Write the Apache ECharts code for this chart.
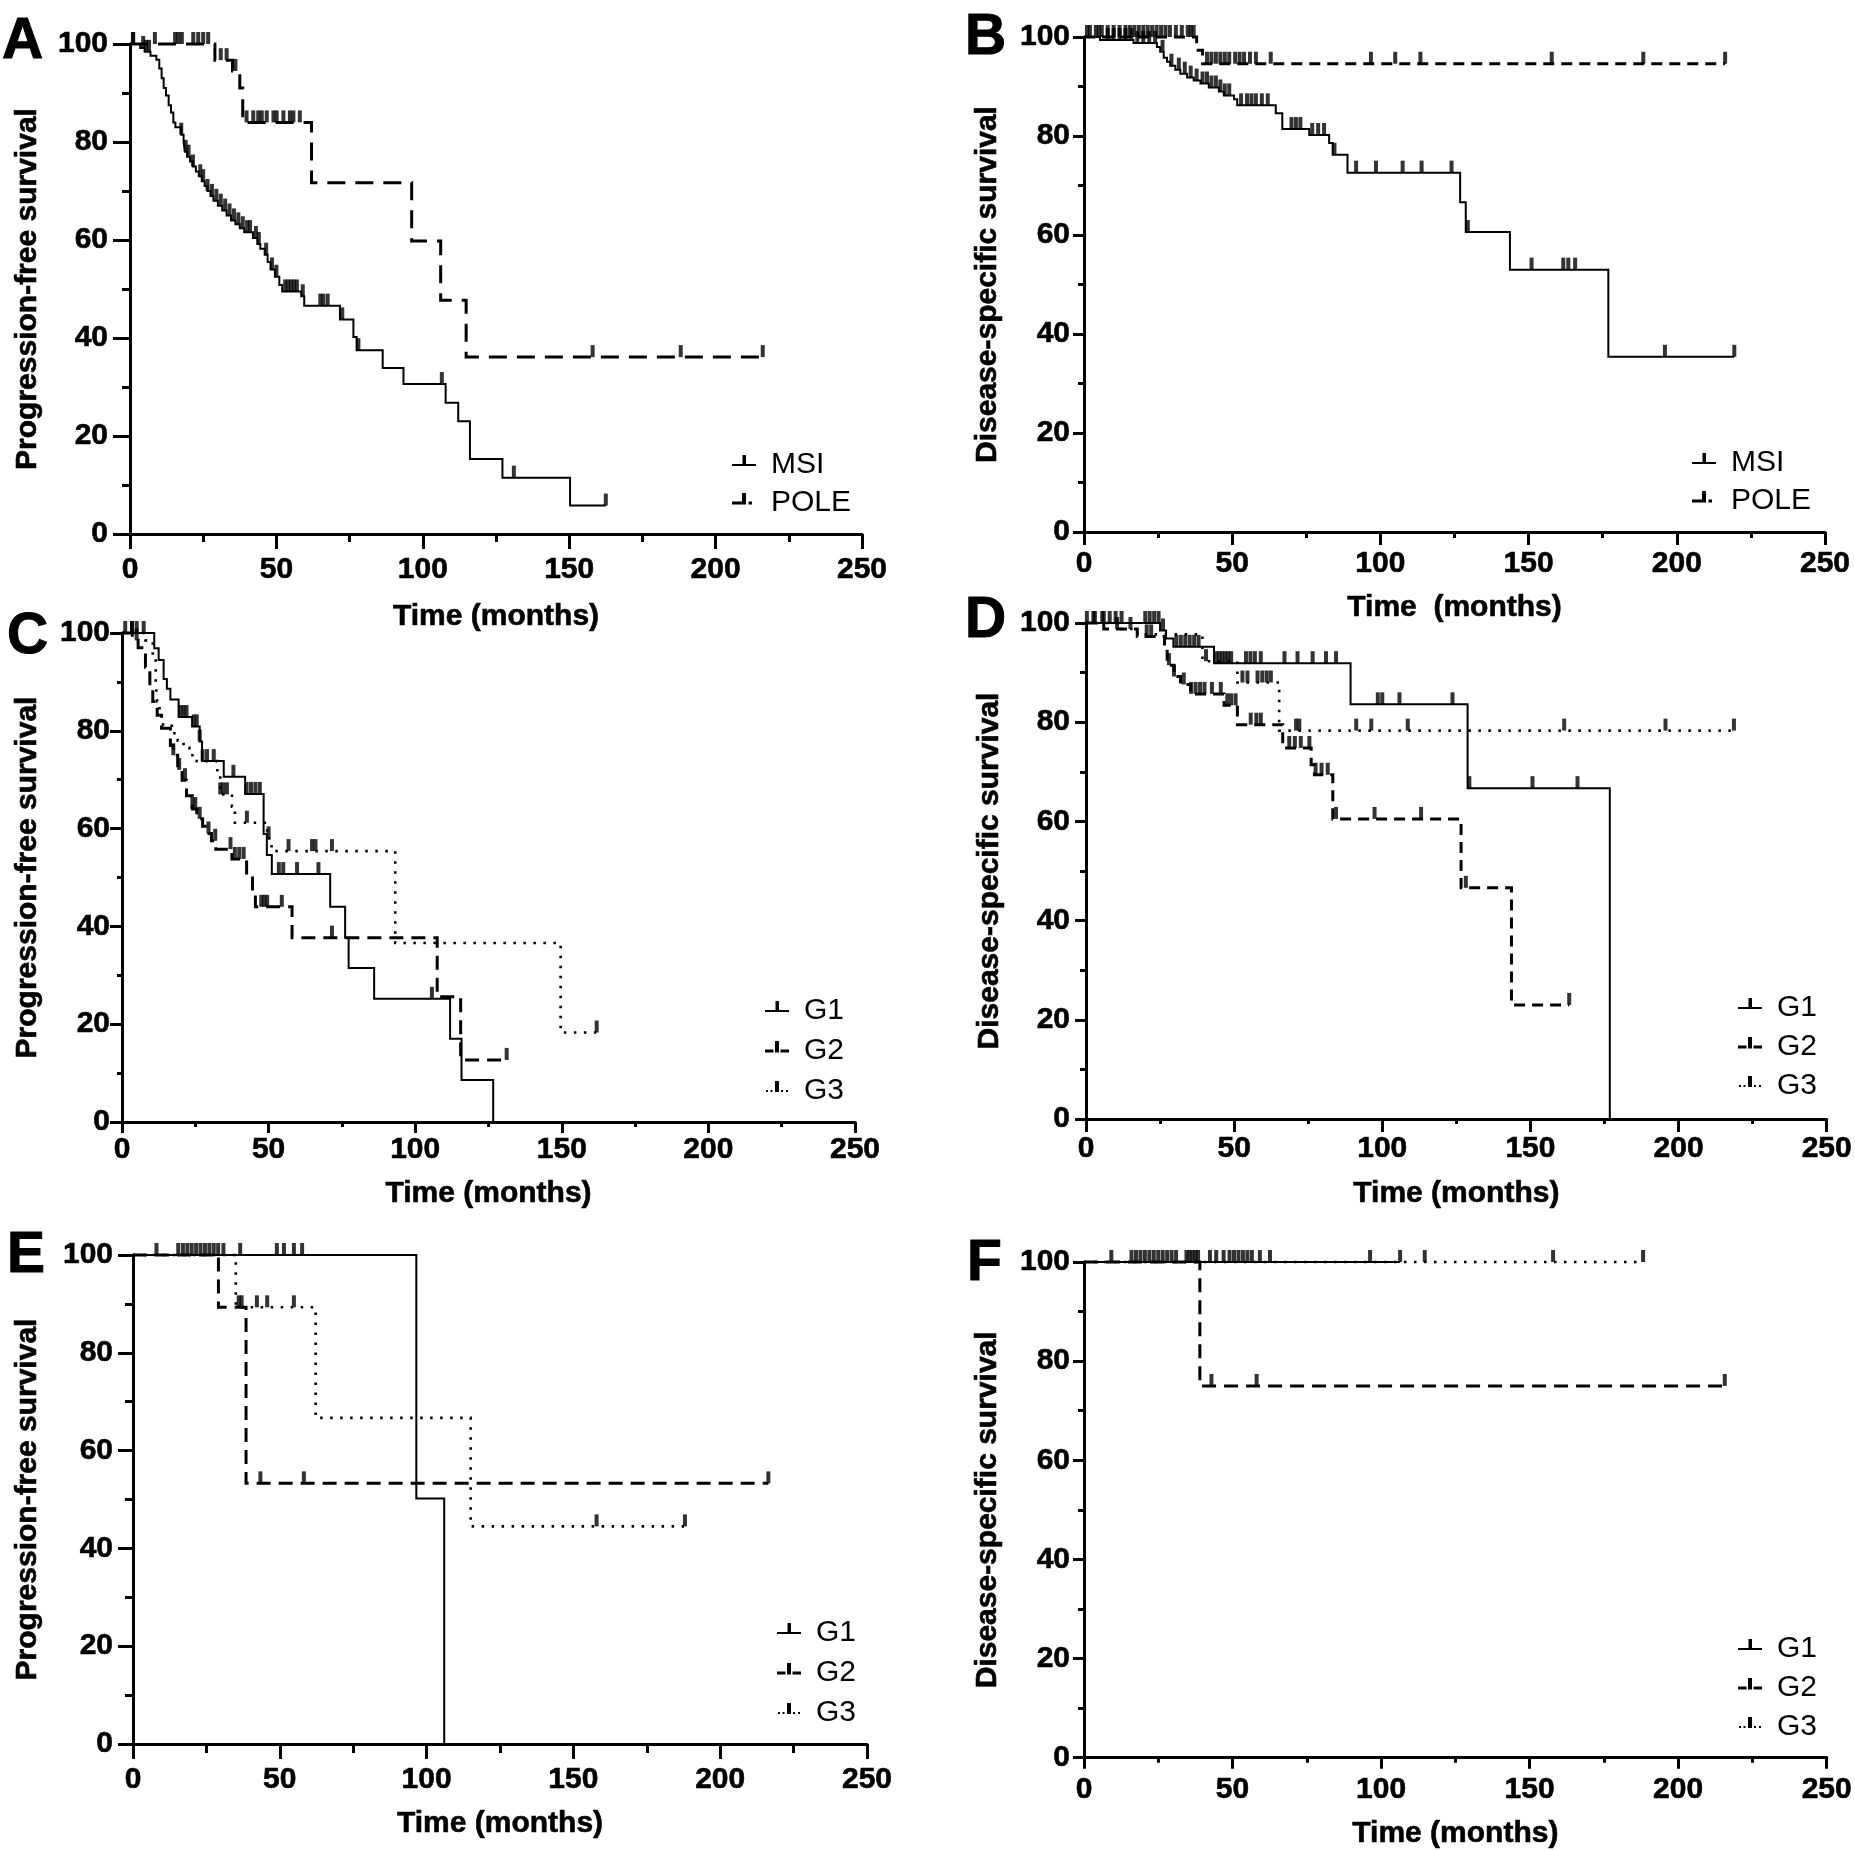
<!DOCTYPE html>
<html>
<head>
<meta charset="utf-8">
<script src="https://cdn.jsdelivr.net/npm/echarts@6.0.0/dist/echarts.min.js"></script>
<style>
html,body{margin:0;padding:0;background:#fff;}
#chart{width:1855px;height:1850px;}
</style>
</head>
<body>
<div id="chart"></div>
<script>
// ================= DATA =================
const xTickValues = [0, 50, 100, 150, 200, 250];
const yTickValues = [0, 20, 40, 60, 80, 100];

const panelLetters = ['A', 'B', 'C', 'D', 'E', 'F'];
const yTitles = ['Progression-free survival', 'Disease-specific survival', 'Progression-free survival',
                 'Disease-specific survival', 'Progression-free survival', 'Disease-specific survival'];
const xTitles = ['Time (months)', 'Time  (months)', 'Time (months)', 'Time (months)', 'Time (months)', 'Time (months)'];
const groupsMolecular = ['MSI', 'POLE'];
const groupsGrade = ['G1', 'G2', 'G3'];

// Steps are [time, survival after the drop]; censor = times of censored cases
// Panel A
const A_MSI_steps = [[3.5,99.2],[5,98.4],[7,97.6],[9,96.8],[10,95],[10.8,93],[11.5,91],[12.3,89.5],[13.2,87.5],[14,86],[14.8,84],[15.5,83],[17.5,81.5],[18.3,80],[18.8,78],[19.5,77],[20.5,76],[21.5,75],[22.5,74],[23.5,73],[24.5,72],[25.5,71],[26.5,70],[27.5,69],[28.5,68],[30,67],[31.5,66],[33,65],[34.5,64],[36,63.2],[37.5,62.4],[39,61.6],[42,60.4],[43.5,59.2],[44.5,58.2],[46,57],[47,55.5],[48,54],[49.5,52.5],[51,50.8],[52,49.5],[58.5,48.5],[59.5,46.6],[71.7,43.8],[76.3,40.2],[77.4,37.5],[86.3,33.9],[93.4,30.6],[107.8,26.8],[112.1,23.0],[116.1,15.3],[127.2,11.5],[150.3,5.8]];
const A_MSI_censor = [1,4.5,5.5,6.5,17.5,19,20,21.5,24,25,26.5,28,29.5,31,32.5,34,35.5,37,38.5,40,41,43,44,46.5,48.5,50,53,54,55,56,57,59,65,66,67.5,72.5,78,106.5,131.1,162.5];
const A_POLE_steps = [[29,96.7],[35,94.5],[37.5,91],[38.5,84],[62,71.7],[96.2,59.8],[106.1,47.7],[114.8,36.1]];
const A_POLE_censor = [1.1,8.5,15.4,16.5,17.7,21.6,23.3,25,26.7,31,33,36,39.8,42.1,43.8,45,46.7,49,50.1,52.4,54.6,55.8,58,158,188.1,216.1];
// Panel B
const B_MSI_steps = [[5.4,99.4],[16.7,98.8],[24.6,98],[25.7,97],[26.9,95.8],[28,95],[29.1,94.2],[30.8,93.4],[32.5,92.6],[34.8,91.8],[37,91.2],[39.3,90.6],[42.1,89.8],[45.5,89],[47.2,88.2],[50.6,87.4],[51.7,86.2],[64.7,84.6],[66.9,81.4],[76,80.2],[82.7,78.6],[83.9,76.2],[88.9,72.6],[126.9,66.6],[128.8,60.6],[143.7,53.0],[176.9,35.4]];
const B_MSI_censor = [2,5,8,10,12,14,16,18,20,22,24,26.5,29.5,32,34,36,38,40,41.5,43,44.5,46,47.5,49,53,55,56.5,58,60,62,70,71.5,73,77,79,81,84.5,91.8,98.5,107.5,113.9,124,129.5,151,161.7,163.4,165.7,196,219.4];
const B_POLE_steps = [[38,97.3],[40,94.6]];
const B_POLE_censor = [1,4,6,8,10,12,14,15.5,17,18.5,20,21.5,23,24.5,26,27.5,29,31,33,35,36,37,41.5,43,44.5,46,47.5,49,51,52.5,54,56,58,63,96.8,105,113.5,157.8,188.7,216.3];
// Panel C
const C_G1_steps = [[11,96.9],[12.5,94.5],[14.2,90.6],[15.3,88.6],[16.5,86.4],[19.3,82.8],[23.9,80.9],[26.5,77.8],[27.3,73.8],[34.7,70.6],[42,67.1],[48.3,58.9],[49.4,54.6],[51.1,50.7],[71,44],[76.1,37.7],[77.3,31.5],[86,25.2],[111.9,17],[115.8,8.6],[126.6,0]];
const C_G1_censor = [1.1,7.4,20,21,22,24.5,25.5,26.5,31.3,38,42.5,44,45.5,47,53.5,55,59.7,67,105.7];
const C_G2_steps = [[3.5,98.5],[5.5,97],[8,93],[9.5,89],[10.5,86],[12,83.2],[13.5,80.5],[16.5,77],[17.5,75],[19,72],[20.5,69.9],[22,66.7],[24,64],[25.5,62],[27.5,60.5],[29,59],[30.5,57.5],[32,55.8],[37.5,53.8],[42.5,50.3],[44.5,47],[45.5,44],[58,37.7],[107.5,25.6],[115.5,12.7]];
const C_G2_censor = [3.4,5,17.5,19.5,21.5,24,25,26.5,29.5,31.8,37,38.5,40,41.5,47.5,48.5,49.5,54.5,71.6,131.2];
const C_G3_steps = [[8,98.5],[10.5,95],[11.5,90],[12,86],[12.8,83],[14,81],[17,79.5],[19,78],[21,76.5],[23,75],[25.5,73.8],[32.5,71],[33.5,67],[37.5,64.5],[38.5,61.2],[49.5,58],[51,55.4],[93.2,36.6],[149.6,18.3]];
const C_G3_censor = [3.4,5,27.5,29,33.5,34.5,35.8,42.6,50,56.8,64.8,66,71.6,161.9];
// Panel D
const D_G1_steps = [[25,98.5],[27,96.9],[29.5,95.2],[43.2,91.9],[89.3,83.6],[128.8,66.7],[176.8,0]];
const D_G1_censor = [0.3,2.5,6,8,10,12,20,21.5,23,24.5,26,30.5,32,33.5,35,36.5,38,44,45,46,47,48,49,54,55.5,57,59,67,71.4,76.5,81,84.4,98.5,100,105.8,123.7,129.4,150.7,165.9];
const D_G2_steps = [[6,98.8],[17.3,97.3],[26.5,95],[27.4,91.5],[29.7,89.2],[31.9,87.6],[35.3,85.7],[46.6,83.4],[51.1,79.5],[66.4,74.8],[76,71.4],[77.1,69.4],[83.3,60.5],[126.6,46.6],[143.6,23]];
const D_G2_censor = [5.5,10.5,20.5,22,28,29.7,33,35.5,37,38.5,40,42.5,45.5,47.7,49,50.5,55.6,57.5,59,68.6,70.5,72.5,75.4,77.5,79.5,81.6,84.4,97.4,113.1,128.2,163.1];
const D_G3_steps = [[10.5,98.8],[17.3,97.7],[39.3,92.3],[51.1,88],[65.2,78.3]];
const D_G3_censor = [3,15,40.5,52.8,54.5,57.9,59.5,61,62.4,70.9,72,91.2,96.3,108.6,161.4,195.6,218.7];
// Panel E
const E_G1_steps = [[96.5,50.2],[106,0]];
const E_G1_censor = [8,15.4,17,18.5,20,21.5,23,24.5,26,27.5,29,30.8,36.5,49,51.4,54.8,57.6];
const E_G2_steps = [[29.1,89.3],[38.5,53.3]];
const E_G2_censor = [36,43.4,58.2,216.4];
const E_G3_steps = [[35,89.3],[62.2,66.7],[115,44.5]];
const E_G3_censor = [37,42.2,45.7,54.8,157.9,188];
// Panel F
const F_G1_steps = [];
const F_G1_censor = [9.2,16,17.5,19,20.5,22,23.5,25,26.5,28,29.5,31,34.5,35.5,36.5,37.5,38.4,42.4,44.5,47,49,50.5,52,53.5,55,56.5,59.2,62.6,96.3,106.4];
const F_G2_steps = [[39,75]];
const F_G2_censor = [42.9,58.1,215.7];
const F_G3_steps = [];
const F_G3_censor = [114.7,157.9,188.2];

// ================= LAYOUT / STYLE =================
const FONT = "'Liberation Sans', Arial, Helvetica, sans-serif";
const layout = [
  {grid:{left:130,top:44,width:732,height:490},  yTick:[17,8], xTick:[15,8], yLab:22, xLab:21, yGap:87, xGap:68, letter:[2,14],   legend:[732,450],  legGap:8},
  {grid:{left:1084,top:37,width:741,height:495}, yTick:[11,6], xTick:[13,6], yLab:14, xLab:17, yGap:81, xGap:61, letter:[965,10], legend:[1692,448], legGap:8},
  {grid:{left:122,top:633,width:733,height:489}, yTick:[12,5], xTick:[11,5], yLab:12, xLab:13, yGap:79, xGap:57, letter:[7,609],  legend:[765,996],  legGap:10},
  {grid:{left:1086,top:623,width:742,height:496},yTick:[11,6], xTick:[13,5], yLab:16, xLab:15, yGap:81, xGap:60, letter:[965,593],legend:[1738,993], legGap:9},
  {grid:{left:133,top:1255,width:734,height:489},yTick:[15,8], xTick:[15,9], yLab:20, xLab:21, yGap:90, xGap:65, letter:[7,1228], legend:[777,1618], legGap:10},
  {grid:{left:1084,top:1262,width:743,height:497},yTick:[11,6],xTick:[11,5], yLab:14, xLab:17, yGap:81, xGap:61, letter:[967,1236],legend:[1738,1634],legGap:9}
];
const lineStyles = {
  solid: {type:'solid', width:2},
  dashA: {type:[18,10], width:3},
  dashB: {type:[11,7], width:3},
  dash:  {type:[14,8], width:3},
  dashS: {type:[11,7], width:3},
  dot:   {type:[2.5,7.5], width:2.6}
};
const icons = {
  solid: 'path://M0,9H24V11H0Z M10.5,0H14V11H10.5Z M0,20L0.01,20L0,20Z M24,20L24.01,20L24,20Z',
  pole:  'path://M0,8.5H10V11.5H0Z M10,0H14V11.5H10Z M16.5,8.5H20V11.5H16.5Z M0,20L0.01,20L0,20Z M24,20L24.01,20L24,20Z',
  dash:  'path://M0,8.5H8.5V11.5H0Z M10,0H14V11.5H10Z M15.5,8.5H24V11.5H15.5Z M0,20L0.01,20L0,20Z',
  dot:   'path://M1,9H3V11H1Z M5.5,9H7.5V11H5.5Z M10,0H14V11H10Z M16,9H18V11H16Z M21,9H23V11H21Z M0,20L0.01,20L0,20Z M24,20L24.01,20L24,20Z'
};

const panels = [
  {curves:[{name:groupsMolecular[0], steps:A_MSI_steps, censor:A_MSI_censor, ls:'solid', icon:'solid'},
           {name:groupsMolecular[1], steps:A_POLE_steps, censor:A_POLE_censor, ls:'dashA', icon:'pole'}]},
  {curves:[{name:groupsMolecular[0], steps:B_MSI_steps, censor:B_MSI_censor, ls:'solid', icon:'solid'},
           {name:groupsMolecular[1], steps:B_POLE_steps, censor:B_POLE_censor, ls:'dashB', icon:'pole'}]},
  {curves:[{name:groupsGrade[0], steps:C_G1_steps, censor:C_G1_censor, ls:'solid', icon:'solid'},
           {name:groupsGrade[1], steps:C_G2_steps, censor:C_G2_censor, ls:'dash', icon:'dash'},
           {name:groupsGrade[2], steps:C_G3_steps, censor:C_G3_censor, ls:'dot', icon:'dot'}]},
  {curves:[{name:groupsGrade[0], steps:D_G1_steps, censor:D_G1_censor, ls:'solid', icon:'solid'},
           {name:groupsGrade[1], steps:D_G2_steps, censor:D_G2_censor, ls:'dashS', icon:'dash'},
           {name:groupsGrade[2], steps:D_G3_steps, censor:D_G3_censor, ls:'dot', icon:'dot'}]},
  {curves:[{name:groupsGrade[0], steps:E_G1_steps, censor:E_G1_censor, ls:'solid', icon:'solid'},
           {name:groupsGrade[1], steps:E_G2_steps, censor:E_G2_censor, ls:'dash', icon:'dash'},
           {name:groupsGrade[2], steps:E_G3_steps, censor:E_G3_censor, ls:'dot', icon:'dot'}]},
  {curves:[{name:groupsGrade[0], steps:F_G1_steps, censor:F_G1_censor, ls:'solid', icon:'solid'},
           {name:groupsGrade[1], steps:F_G2_steps, censor:F_G2_censor, ls:'dash', icon:'dash'},
           {name:groupsGrade[2], steps:F_G3_steps, censor:F_G3_censor, ls:'dot', icon:'dot'}]}
];

// ================= BUILD =================
function survAt(steps, t) {
  let s = yTickValues[yTickValues.length - 1];
  for (const st of steps) { if (st[0] <= t) s = st[1]; }
  return s;
}
function kmPoints(steps, censor) {
  const pts = [[xTickValues[0], yTickValues[yTickValues.length - 1]]];
  steps.forEach(st => pts.push([st[0], st[1]]));
  const lastStepT = steps.length ? steps[steps.length - 1][0] : 0;
  const lastS = steps.length ? steps[steps.length - 1][1] : yTickValues[yTickValues.length - 1];
  const maxC = censor.length ? Math.max.apply(null, censor) : 0;
  if (maxC > lastStepT) pts.push([maxC, lastS]);
  return pts;
}

const xMin = xTickValues[0], xMax = xTickValues[xTickValues.length - 1], xInt = xTickValues[1] - xTickValues[0];
const yMin = yTickValues[0], yMax = yTickValues[yTickValues.length - 1], yInt = yTickValues[1] - yTickValues[0];

const grids = [], xAxes = [], yAxes = [], series = [], legends = [], titles = [];
const labelFont = {color:'#000', fontSize:30, fontWeight:'bold', fontFamily:FONT, textBorderColor:'#000', textBorderWidth:0.6};

panels.forEach((p, i) => {
  const L = layout[i];
  grids.push(Object.assign({containLabel:false}, L.grid));
  xAxes.push({
    gridIndex:i, type:'value', min:xMin, max:xMax, interval:xInt,
    axisLine:{show:true, onZero:false, lineStyle:{color:'#000', width:3}},
    axisTick:{show:true, length:L.xTick[0], lineStyle:{color:'#000', width:3}},
    minorTick:{show:true, splitNumber:2, length:L.xTick[1], lineStyle:{color:'#000', width:3}},
    splitLine:{show:false}, minorSplitLine:{show:false},
    axisLabel:Object.assign({margin:L.xLab}, labelFont),
    name:xTitles[i], nameLocation:'middle', nameGap:L.xGap,
    nameTextStyle:labelFont
  });
  yAxes.push({
    gridIndex:i, type:'value', min:yMin, max:yMax, interval:yInt,
    axisLine:{show:true, onZero:false, lineStyle:{color:'#000', width:3}},
    axisTick:{show:true, length:L.yTick[0], lineStyle:{color:'#000', width:3}},
    minorTick:{show:true, splitNumber:2, length:L.yTick[1], lineStyle:{color:'#000', width:3}},
    splitLine:{show:false}, minorSplitLine:{show:false},
    axisLabel:Object.assign({margin:L.yLab}, labelFont),
    name:yTitles[i], nameLocation:'middle', nameGap:L.yGap, nameRotate:90,
    nameTextStyle:labelFont
  });
  p.curves.forEach(c => {
    const ls = lineStyles[c.ls];
    series.push({
      name:c.name, type:'line', xAxisIndex:i, yAxisIndex:i, step:'end',
      data:kmPoints(c.steps, c.censor), symbol:'none', showSymbol:false, clip:false,
      lineStyle:{color:'#000', width:ls.width, type:ls.type, cap:'butt', join:'miter'},
      itemStyle:{color:'#000'}, silent:true, z:3
    });
    series.push({
      name:c.name + ' censored', type:'scatter', xAxisIndex:i, yAxisIndex:i,
      data:c.censor.map(t => [t, survAt(c.steps, t)]),
      symbol:'rect', symbolSize:[4, 12], symbolOffset:[0, '-50%'], clip:false,
      itemStyle:{color:'#000'}, silent:true, z:4
    });
  });
  legends.push({
    left:L.legend[0], top:L.legend[1], orient:'vertical', padding:0,
    itemWidth:24, itemHeight:20, itemGap:L.legGap, selectedMode:false,
    data:p.curves.map(c => ({name:c.name, icon:icons[c.icon]})),
    itemStyle:{color:'#000', borderWidth:0},
    textStyle:{color:'#000', fontSize:30, fontFamily:FONT, lineHeight:30, padding:[0,0,0,10]}
  });
  titles.push({
    text:panelLetters[i], left:L.letter[0], top:L.letter[1], padding:0,
    textStyle:{color:'#000', fontSize:57, fontWeight:'bold', fontFamily:FONT, textBorderColor:'#000', textBorderWidth:1}
  });
});

const chart = echarts.init(document.getElementById('chart'), null, {renderer:'canvas'});
chart.setOption({
  animation:false, backgroundColor:'#fff', color:['#000'],
  title:titles, grid:grids, xAxis:xAxes, yAxis:yAxes, legend:legends, series:series
});
</script>
</body>
</html>
